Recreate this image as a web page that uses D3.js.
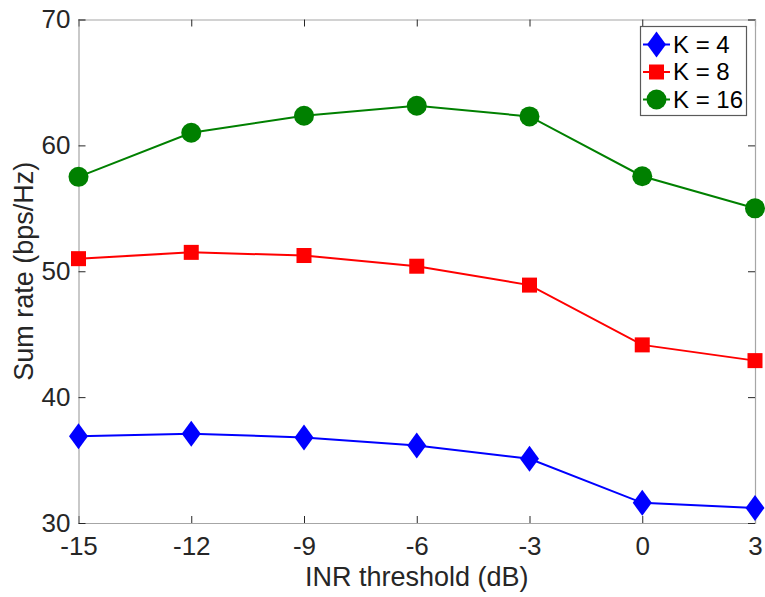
<!DOCTYPE html>
<html>
<head>
<meta charset="utf-8">
<script src="https://cdn.jsdelivr.net/npm/d3@7"></script>
<style>
  html, body { margin: 0; padding: 0; background: #fff; }
  svg { display: block; font-family: "Liberation Sans", Arial, sans-serif; }
</style>
</head>
<body>
<svg id="chart" width="765" height="597"></svg>
<script>
// INR threshold values (dB) along the x axis
const thresholds = [-15, -12, -9, -6, -3, 0, 3];
// Sum rate (bps/Hz) for each number of users K
const rateK4  = [36.9, 37.1, 36.8, 36.15, 35.1, 31.6, 31.2];
const rateK8  = [51.0, 51.5, 51.25, 50.4, 48.9, 44.15, 42.9];
const rateK16 = [57.5, 61.0, 62.35, 63.15, 62.3, 57.55, 55.0];
const yTicks = [30, 40, 50, 60, 70];
const seriesNames = ["K = 4", "K = 8", "K = 16"];

const series = [
  { name: seriesNames[0], values: rateK4,  color: "#0000ff", marker: "diamond" },
  { name: seriesNames[1], values: rateK8,  color: "#ff0000", marker: "square" },
  { name: seriesNames[2], values: rateK16, color: "#008000", marker: "circle" }
];

const svg = d3.select("#chart");
const margin = { left: 78.5, right: 10, top: 19.5, bottom: 74 };
const W = 765, H = 597;
const x = d3.scaleLinear().domain([-15, 3]).range([margin.left, W - margin.right]);
const y = d3.scaleLinear().domain([30, 70]).range([H - margin.bottom, margin.top]);

const tickColor = "#262626";
const boxColor = "#a6a6a6";
const tickLen = 7;

// Axes with inward ticks on all four sides
const gx = svg.append("g").attr("transform", `translate(0,${y(30)})`)
  .call(d3.axisBottom(x).tickValues(thresholds).tickSize(-tickLen).tickPadding(14).tickFormat(d3.format("d")));
const gxTop = svg.append("g").attr("transform", `translate(0,${y(70)})`)
  .call(d3.axisTop(x).tickValues(thresholds).tickSize(-tickLen).tickFormat(""));
const gy = svg.append("g").attr("transform", `translate(${x(-15)},0)`)
  .call(d3.axisLeft(y).tickValues(yTicks).tickSize(-tickLen).tickPadding(8));
const gyRight = svg.append("g").attr("transform", `translate(${x(3)},0)`)
  .call(d3.axisRight(y).tickValues(yTicks).tickSize(-tickLen).tickFormat(""));

[gx, gxTop, gy, gyRight].forEach(g => {
  g.select(".domain").attr("stroke", boxColor).attr("stroke-width", 1.2);
  g.selectAll(".tick line").attr("stroke", tickColor).attr("stroke-width", 1);
  g.selectAll(".tick text").attr("fill", tickColor).attr("font-size", 26)
    .attr("font-family", "'Liberation Sans', Arial, sans-serif");
});
gx.selectAll(".tick text").text(d => d < 0 ? "-" + Math.abs(d) : d);

// Marker shapes
function drawMarker(g, type, color) {
  if (type === "diamond") {
    g.append("path").attr("d", "M0,-13L9.5,0L0,13L-9.5,0Z").attr("fill", color);
  } else if (type === "square") {
    g.append("rect").attr("x", -7.5).attr("y", -7.5).attr("width", 15).attr("height", 15).attr("fill", color);
  } else {
    g.append("circle").attr("r", 10).attr("fill", color);
  }
}

const line = d3.line().x((d, i) => x(thresholds[i])).y(d => y(d));

series.forEach(s => {
  svg.append("path").datum(s.values)
    .attr("d", line).attr("fill", "none")
    .attr("stroke", s.color).attr("stroke-width", 2);
  s.values.forEach((v, i) => {
    const g = svg.append("g").attr("transform", `translate(${x(thresholds[i])},${y(v)})`);
    drawMarker(g, s.marker, s.color);
  });
});

// Axis titles
svg.append("text")
  .attr("x", (x(-15) + x(3)) / 2).attr("y", 586)
  .attr("text-anchor", "middle").attr("font-size", 27).attr("fill", tickColor)
  .text("INR threshold (dB)");
svg.append("text")
  .attr("transform", `translate(33,${(y(30) + y(70)) / 2}) rotate(-90)`)
  .attr("text-anchor", "middle").attr("font-size", 27).attr("fill", tickColor)
  .text("Sum rate (bps/Hz)");

// Legend
const legend = svg.append("g");
legend.append("rect").attr("x", 640.5).attr("y", 26.5).attr("width", 106).attr("height", 89)
  .attr("fill", "#fff").attr("stroke", "#5a5a5a").attr("stroke-width", 1.2);
series.forEach((s, i) => {
  const cy = 44.5 + i * 27.5;
  legend.append("line").attr("x1", 643).attr("x2", 670).attr("y1", cy).attr("y2", cy)
    .attr("stroke", s.color).attr("stroke-width", 2);
  const g = legend.append("g").attr("transform", `translate(656.5,${cy})`);
  drawMarker(g, s.marker, s.color);
  legend.append("text").attr("x", 673).attr("y", cy).attr("dy", "0.35em")
    .attr("font-size", 24).attr("fill", "#000").text(s.name);
});
</script>
</body>
</html>
